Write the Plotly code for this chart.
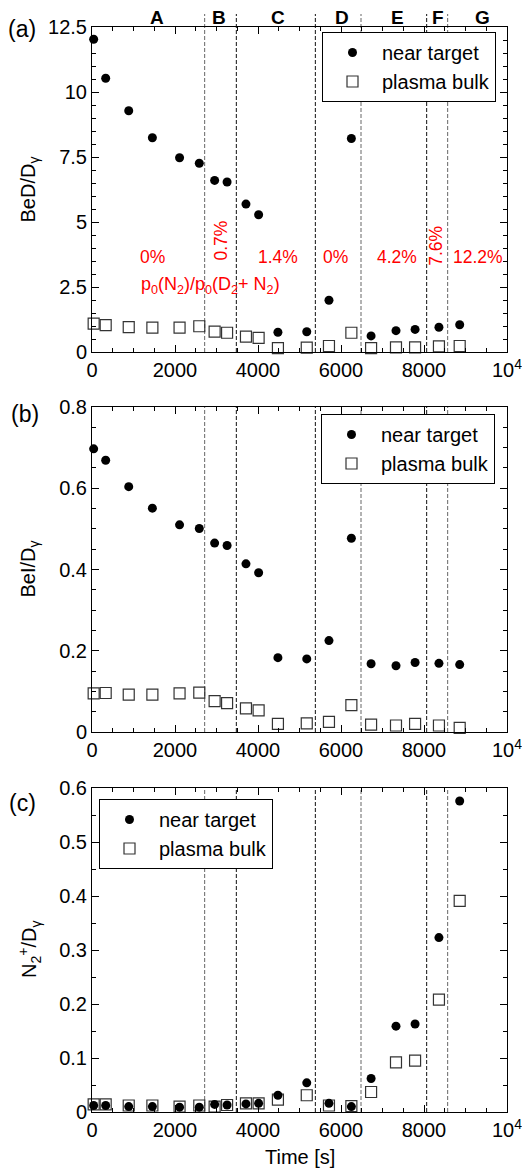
import plotly.graph_objects as go

# ---------------- data ----------------
time_s = [40, 330, 885, 1455, 2110, 2585, 2955, 3255, 3710, 4015, 4480,
          5175, 5710, 6250, 6725, 7325, 7785, 8360, 8860]

bed_near = [12.03, 10.53, 9.28, 8.24, 7.47, 7.26, 6.60, 6.54, 5.69, 5.28, 0.76,
            0.78, 1.99, 8.21, 0.62, 0.82, 0.87, 0.95, 1.05]
bed_bulk = [1.09, 1.03, 0.96, 0.94, 0.94, 0.99, 0.78, 0.74, 0.59, 0.54, 0.15,
            0.17, 0.23, 0.74, 0.15, 0.18, 0.18, 0.22, 0.23]

bei_near = [0.697, 0.669, 0.604, 0.551, 0.510, 0.501, 0.465, 0.459, 0.414, 0.392, 0.183,
            0.180, 0.225, 0.477, 0.168, 0.163, 0.171, 0.169, 0.166]
bei_bulk = [0.095, 0.096, 0.092, 0.092, 0.095, 0.097, 0.076, 0.071, 0.058, 0.053, 0.020,
            0.021, 0.025, 0.066, 0.018, 0.016, 0.020, 0.016, 0.010]

n2_near = [0.012, 0.012, 0.010, 0.010, 0.009, 0.009, 0.014, 0.013, 0.015, 0.016, 0.031,
           0.054, 0.016, 0.010, 0.062, 0.159, 0.163, 0.323, 0.576]
n2_bulk = [0.014, 0.014, 0.012, 0.012, 0.010, 0.012, 0.010, 0.013, 0.016, 0.016, 0.023,
           0.031, 0.012, 0.011, 0.037, 0.092, 0.095, 0.208, 0.391]

phase_bounds = [2715, 3478, 5382, 6482, 8064, 8570]
phase_colors = ["#666666", "#111111", "#111111", "#666666", "#111111", "#666666"]
phase_letters = ["A", "B", "C", "D", "E", "F", "G"]
phase_letter_x = [1570, 3070, 4470, 6030, 7350, 8330, 9400]
ratio_labels = ["0%", "0.7%", "1.4%", "0%", "4.2%", "7.6%", "12.2%"]
ratio_x = [1450, 3115, 4490, 5860, 7350, 8300, 9290]
ratio_y = [3.65, 4.3, 3.65, 3.65, 3.65, 4.1, 3.65]
ratio_angle = [0, -90, 0, 0, 0, -90, 0]

x_ticks = [0, 2000, 4000, 6000, 8000, 10000]
x_ticktext = ["0", "2000", "4000", "6000", "8000", "10<sup>4</sup>"]

panels = [
    dict(near=bed_near, bulk=bed_bulk, ymax=12.5, minor=0.5,
         ytickvals=[0, 2.5, 5, 7.5, 10, 12.5], yticktext=["0", "2.5", "5", "7.5", "10", "12.5"],
         title="BeD/D<sub>γ</sub>", label="(a)"),
    dict(near=bei_near, bulk=bei_bulk, ymax=0.8, minor=0.05,
         ytickvals=[0, 0.2, 0.4, 0.6, 0.8], yticktext=["0", "0.2", "0.4", "0.6", "0.8"],
         title="BeI/D<sub>γ</sub>", label="(b)"),
    dict(near=n2_near, bulk=n2_bulk, ymax=0.6, minor=0.05,
         ytickvals=[0, 0.1, 0.2, 0.3, 0.4, 0.5, 0.6], yticktext=["0", "0.1", "0.2", "0.3", "0.4", "0.5", "0.6"],
         title="N<sub>2</sub><sup>+</sup>/D<sub>γ</sub>", label="(c)"),
]

# ---------------- layout geometry (page pixels; body has 8px margin) ----------------
OFF = 8
W, H = 530 - OFF, 1169 - OFF
x_left, x_right = 92, 507
panel_px = [(27, 352), (407, 732), (788, 1112)]
legend_px = [(322, 32), (321, 414), (99, 799)]
label_px = [(22, 29), (25, 414), (22, 803)]

FONT = "Liberation Sans, Arial, sans-serif"

def px(p):
    return (p - OFF) / W

def py(p):
    return 1 - (p - OFF) / H

fig = go.Figure()
layout = dict(
    template="none",
    width=W, height=H, margin=dict(l=0, r=0, t=0, b=0, autoexpand=False),
    paper_bgcolor="white", plot_bgcolor="white",
    font=dict(family=FONT, color="black", size=20),
    showlegend=True,
)
annotations = []
shapes = []

for i, p in enumerate(panels):
    n = i + 1
    xa = "x" if n == 1 else f"x{n}"
    ya = "y" if n == 1 else f"y{n}"
    leg = "legend" if n == 1 else f"legend{n}"
    top, bot = panel_px[i]

    fig.add_trace(go.Scatter(
        x=time_s, y=p["bulk"], mode="markers", name="plasma bulk",
        xaxis=xa, yaxis=ya, legend=leg, legendrank=2, cliponaxis=False,
        marker=dict(symbol="square-open", size=11, color="#333333", line=dict(width=1.2)),
    ))
    fig.add_trace(go.Scatter(
        x=time_s, y=p["near"], mode="markers", name="near target",
        xaxis=xa, yaxis=ya, legend=leg, legendrank=1, cliponaxis=False,
        marker=dict(symbol="circle", size=9, color="black"),
    ))

    axis_common = dict(
        showline=True, linecolor="black", linewidth=1, mirror="allticks",
        ticks="inside", ticklen=7, tickwidth=1, tickcolor="black",
        showgrid=False, zeroline=False, automargin=False,
        tickfont=dict(family=FONT, size=20, color="black"),
    )
    layout["xaxis" if n == 1 else f"xaxis{n}"] = dict(
        domain=[px(x_left), px(x_right)], anchor=ya, range=[0, 10000],
        tickvals=x_ticks, ticktext=x_ticktext,
        minor=dict(ticks="inside", ticklen=4, tickcolor="black", dtick=500, tick0=0, showgrid=False),
        **axis_common,
    )
    layout["yaxis" if n == 1 else f"yaxis{n}"] = dict(
        domain=[py(bot), py(top)], anchor=xa, range=[0, p["ymax"]],
        tickvals=p["ytickvals"], ticktext=p["yticktext"],
        minor=dict(ticks="inside", ticklen=4, tickcolor="black", dtick=p["minor"], tick0=0, showgrid=False),
        **axis_common,
    )

    lx, ly = legend_px[i]
    layout[leg] = dict(
        x=px(lx), y=py(ly), xanchor="left", yanchor="top",
        bgcolor="white", bordercolor="black", borderwidth=1,
        font=dict(family=FONT, size=20, color="black"),
        itemwidth=49, tracegroupgap=0,
    )

    # phase boundaries
    for b, c in zip(phase_bounds, phase_colors):
        shapes.append(dict(
            type="line", xref=xa, yref=f"{ya} domain", x0=b, x1=b,
            y0=0, y1=1.04 if n == 1 else 1.0,
            line=dict(color=c, width=1, dash="4px,2px"), layer="below",
        ))

    # y title
    annotations.append(dict(
        text=p["title"], xref="paper", yref="paper",
        x=px(29), y=py((top + bot) / 2), xanchor="center", yanchor="middle",
        textangle=-90, showarrow=False, font=dict(family=FONT, size=20, color="black"),
    ))
    # panel label
    lbx, lby = label_px[i]
    annotations.append(dict(
        text=p["label"], xref="paper", yref="paper",
        x=px(lbx), y=py(lby), xanchor="center", yanchor="middle",
        showarrow=False, font=dict(family=FONT, size=23, color="black"),
    ))

# phase letters above panel (a)
for letter, lxv in zip(phase_letters, phase_letter_x):
    annotations.append(dict(
        text=f"<b>{letter}</b>", xref="x", yref="paper", x=lxv, y=py(18),
        xanchor="center", yanchor="middle", showarrow=False, borderpad=0,
        font=dict(family=FONT, size=19, color="black"),
    ))

# N2 ratio labels
for t, rx, ry, ang in zip(ratio_labels, ratio_x, ratio_y, ratio_angle):
    annotations.append(dict(
        text=t, xref="x", yref="y", x=rx, y=ry, xanchor="center", yanchor="middle",
        textangle=ang, showarrow=False, font=dict(family=FONT, size=17.5, color="red"),
    ))
annotations.append(dict(
    text="p<sub>0</sub>(N<sub>2</sub>)/p<sub>0</sub>(D<sub>2</sub>+ N<sub>2</sub>)",
    xref="x", yref="y", x=2850, y=2.55, xanchor="center", yanchor="middle",
    showarrow=False, font=dict(family=FONT, size=18, color="red"),
))

# x title
annotations.append(dict(
    text="Time [s]", xref="paper", yref="paper", x=px(300), y=py(1157),
    xanchor="center", yanchor="middle", showarrow=False,
    font=dict(family=FONT, size=20, color="black"),
))

layout["annotations"] = annotations
layout["shapes"] = shapes
fig.update_layout(**layout)
fig.write_html("out.html")
